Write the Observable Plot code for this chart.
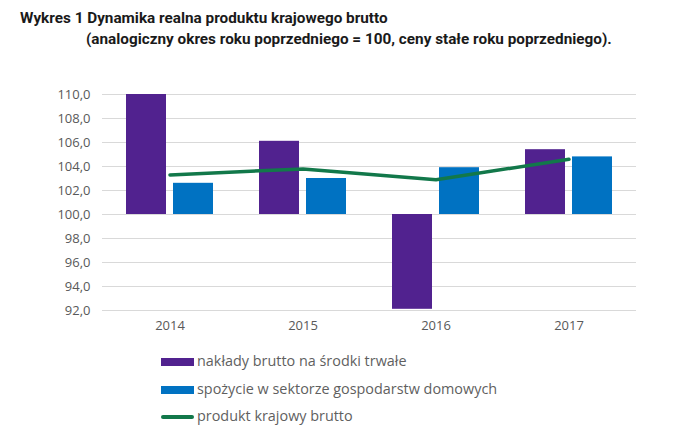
<!DOCTYPE html>
<html><head><meta charset="utf-8">
<script src="https://cdn.jsdelivr.net/npm/d3@7"></script>
<script src="https://cdn.jsdelivr.net/npm/@observablehq/plot@0.6"></script>
<style>
body{margin:0;background:#fff;width:689px;height:442px;position:relative;overflow:hidden;font-family:"Open Sans",sans-serif;}
.t{position:absolute;font-family:Roboto,sans-serif;font-weight:bold;font-size:15.3px;color:#1a1a1a;white-space:nowrap;}
#chart{position:absolute;left:0;top:60px;}
.lg{position:absolute;left:161px;font-size:14.4px;color:#5f5f5f;white-space:nowrap;}
.sw{position:absolute;left:161px;width:33px;height:8px;}
</style></head><body>
<div class="t" id="t1" style="left:20px;top:9px;">Wykres 1 Dynamika realna produktu krajowego brutto</div>
<div class="t" id="t2" style="left:86px;top:30px;">(analogiczny okres roku poprzedniego = 100, ceny stałe roku poprzedniego).</div>
<div id="chart"></div>
<div id="legend"></div>
<script>
const years = ["2014","2015","2016","2017"];
const investment = [110.0, 106.1, 92.1, 105.4];
const consumption = [102.6, 103.0, 103.9, 104.8];
const gdp = [103.3, 103.8, 102.9, 104.6];
const yTicks = [92,94,96,98,100,102,104,106,108,110];
const seriesNames = ["nakłady brutto na środki trwałe","spożycie w sektorze gospodarstw domowych","produkt krajowy brutto"];
const colors = ["#51228f","#0072c2","#12784a"];

const inv = years.map((y,i)=>({year:y, value:investment[i]}));
const con = years.map((y,i)=>({year:y, value:consumption[i]}));
const g = years.map((y,i)=>({year:y, value:gdp[i]}));

const fmt = d => d.toFixed(1).replace(".", ",");

const plot = Plot.plot({
  width: 689, height: 290,
  marginLeft: 102, marginRight: 53, marginTop: 34, marginBottom: 40,
  style: {fontFamily: "'Open Sans', sans-serif", fontSize: "13px", color: "#595959", background: "transparent"},
  x: {domain: years, paddingInner: 0.346, paddingOuter: 0.173, label: null, tickSize: 0, tickPadding: 10},
  y: {domain: [92,110], ticks: yTicks, tickFormat: fmt, label: null, tickSize: 0, tickPadding: 12},
  marks: [
    Plot.gridY(yTicks, {stroke: "#d9d9d9", strokeOpacity: 1, strokeWidth: 1}),
    Plot.barY(inv, {x: "year", y1: 100, y2: "value", fill: colors[0], insetRight: 47}),
    Plot.barY(con, {x: "year", y1: 100, y2: "value", fill: colors[1], insetLeft: 47}),
    Plot.lineY(g, {x: "year", y: "value", stroke: colors[2], strokeWidth: 3.5}),
    Plot.axisY({ticks: yTicks, tickFormat: fmt, tickSize: 0, tickPadding: 12, fill: "#595959"}),
    Plot.axisX({tickSize: 0, tickPadding: 10, fill: "#595959"})
  ]
});
document.getElementById("chart").appendChild(plot);

const lg = document.getElementById("legend");
const rows = [362, 390, 417];
seriesNames.forEach((n,i)=>{
  const t = document.createElement("div");
  t.className = "lg"; t.textContent = n;
  t.style.left = "197px"; t.style.top = (rows[i]-11) + "px";
  lg.appendChild(t);
  const s = document.createElement("div");
  s.className = "sw";
  s.style.background = colors[i];
  if (i < 2) { s.style.top = (rows[i]-4) + "px"; }
  else { s.style.top = (rows[i]-2) + "px"; s.style.height = "4px"; s.style.borderRadius = "2px"; }
  lg.appendChild(s);
});
</script>
</body></html>
